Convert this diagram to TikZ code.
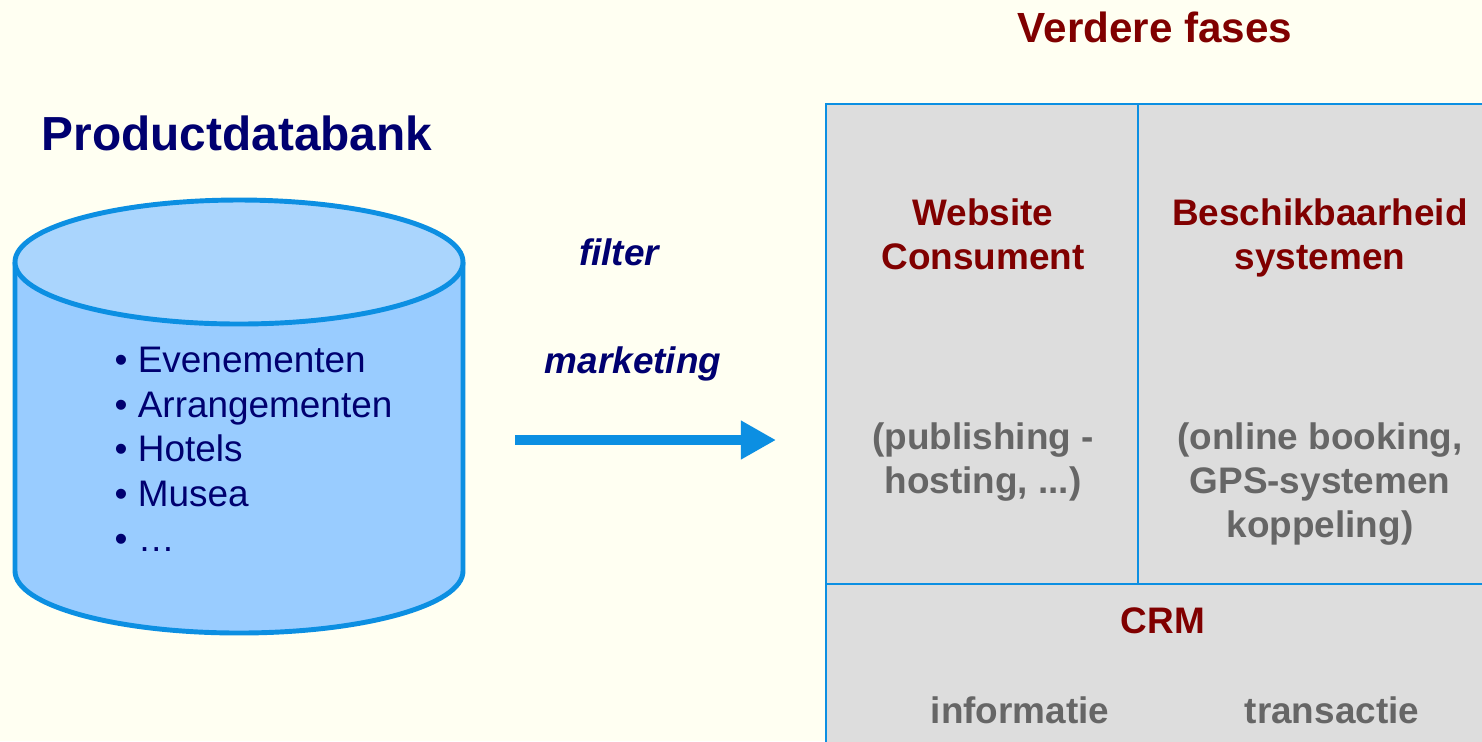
\documentclass[tikz,border=0pt]{standalone}
\usepackage{fontspec}
\setmainfont{Liberation Sans}
\usepackage{tikz}
\usetikzlibrary{arrows.meta}

\definecolor{achtergrond}{HTML}{FFFFF2}
\definecolor{navy}{HTML}{000070}
\definecolor{donkerrood}{HTML}{800000}
\definecolor{lijnblauw}{HTML}{0C8FE2}
\definecolor{cilinder}{HTML}{99CCFF}
\definecolor{deksel}{HTML}{AAD5FD}
\definecolor{vakgrijs}{HTML}{DDDDDD}
\definecolor{tekstgrijs}{HTML}{666666}

\tikzset{
  kop/.style={font=\fontsize{13.6}{16}\selectfont\bfseries, text=navy, inner sep=0pt},
  fase/.style={font=\fontsize{12}{14}\selectfont\bfseries, text=donkerrood, inner sep=0pt},
  vakkop/.style={font=\fontsize{10.5}{12.6}\selectfont\bfseries, text=donkerrood, align=center, inner sep=0pt},
  vaktekst/.style={font=\fontsize{10.5}{12.6}\selectfont\bfseries, text=tekstgrijs, align=center, inner sep=0pt},
  pijltekst/.style={font=\fontsize{10.5}{12.6}\selectfont\bfseries\itshape, text=navy, inner sep=0pt},
  vak/.style={draw=lijnblauw, line width=0.65pt, fill=vakgrijs}
}

\begin{document}
\begin{tikzpicture}[x=0.01cm,y=-0.01cm]
\fill[achtergrond] (0,0) rectangle (1482,741);
\useasboundingbox (0,0) rectangle (1482,741);
\clip (0,0) rectangle (1482,741);

% productdatabank
\node[kop] (titel) at (237,133) {Productdatabank};
\filldraw[fill=cilinder, draw=lijnblauw, line width=1.4pt]
  (15,262) -- (15,571) arc[start angle=180, end angle=360, x radius=224, y radius=-62] -- (463,262);
\filldraw[fill=deksel, draw=lijnblauw, line width=1.4pt] (239,262) ellipse[x radius=224, y radius=62];
\node[anchor=west, inner sep=0pt, text=navy, align=left,
      font=\fontsize{10.5}{12.7}\selectfont] (lijst) at (114,449)
  {• Evenementen\\• Arrangementen\\• Hotels\\• Musea\\• …};

% pijl
\node[pijltekst] (filter) at (619,252) {filter};
\node[pijltekst] (marketing) at (633,364) {marketing};
\coordinate (van) at (515,440);
\coordinate (naar) at (776,440);
\draw[lijnblauw, line width=2.6pt, -{Triangle[length=10pt, width=10.4pt]}] (van) -- (naar);

% verdere fases
\node[fase] (verder) at (1155,27) {Verdere fases};
\draw[vak] (826,104) rectangle (1138,584);
\draw[vak] (1138,104) rectangle (1500,584);
\draw[vak] (826,584) rectangle (1500,760);

\node[vakkop] (website) at (983,234) {Website\\Consument};
\node[vaktekst] (publish) at (983,462) {(publishing -\\hosting, ...)};
\node[vakkop] (beschik) at (1320,238) {Beschikbaarheid\\systemen};
\node[vaktekst] (booking) at (1320,484) {(online booking,\\GPS-systemen\\koppeling)};
\node[vakkop] (crm) at (1163,621) {CRM};
\node[vaktekst] (info) at (1020,710) {informatie};
\node[vaktekst] (trans) at (1332,710) {transactie};
\end{tikzpicture}
\end{document}
